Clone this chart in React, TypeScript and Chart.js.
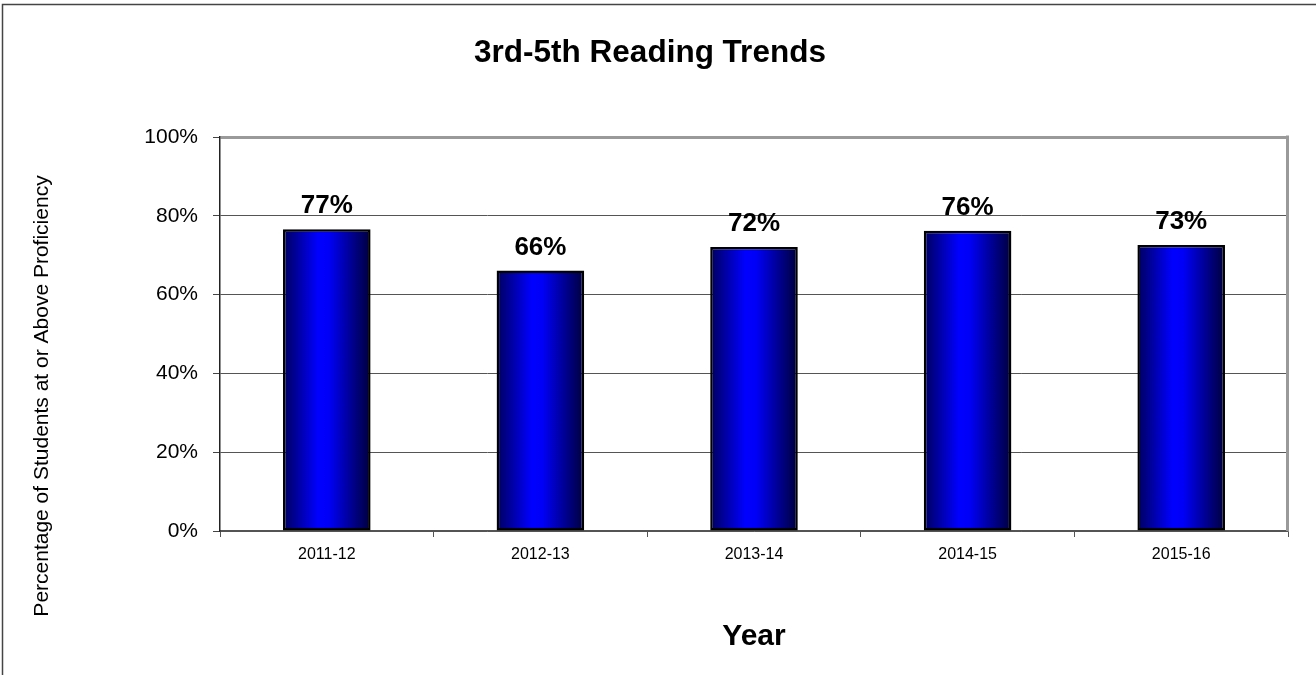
import React, { useEffect, useRef } from "react";
import { Chart, registerables } from "chart.js";

Chart.register(...registerables);

const categories = ["2011-12", "2012-13", "2013-14", "2014-15", "2015-16"];
const values = [76.6, 66.1, 72.1, 76.2, 72.6];
const yTicks = [0, 20, 40, 60, 80, 100];
const chartTitle = "3rd-5th Reading Trends";
const xTitle = "Year";
const yTitle = "Percentage of Students at or Above Proficiency";

const FONT = "Arial, 'Liberation Sans', sans-serif";

const decorPlugin = {
  id: "decor",
  beforeDatasetsDraw(chart: any) {
    const { ctx, chartArea } = chart;
    ctx.save();
    ctx.strokeStyle = "#9a9a9a";
    ctx.lineWidth = 3;
    ctx.beginPath();
    ctx.moveTo(chartArea.right - 0.5, chartArea.top - 1.5);
    ctx.lineTo(chartArea.right - 0.5, chartArea.bottom);
    ctx.stroke();
    ctx.restore();
  },
  afterDatasetsDraw(chart: any) {
    const { ctx } = chart;
    const meta = chart.getDatasetMeta(0);
    ctx.save();
    ctx.fillStyle = "#000";
    ctx.font = `bold 26px ${FONT}`;
    ctx.textAlign = "center";
    ctx.textBaseline = "alphabetic";
    meta.data.forEach((el: any, i: number) => {
      const v = chart.data.datasets[0].data[i] as number;
      ctx.fillText(Math.round(v) + "%", el.x, el.y - 16);
    });
    ctx.restore();
  },
  afterDraw(chart: any) {
    const { ctx, chartArea } = chart;
    ctx.save();
    // outer frame
    ctx.strokeStyle = "#444";
    ctx.lineWidth = 1.5;
    ctx.beginPath();
    ctx.moveTo(2.5, 675);
    ctx.lineTo(2.5, 4.5);
    ctx.lineTo(1316, 4.5);
    ctx.stroke();
    // title
    ctx.fillStyle = "#000";
    ctx.textAlign = "center";
    ctx.textBaseline = "alphabetic";
    ctx.font = `bold 31.5px ${FONT}`;
    ctx.fillText(chartTitle, 650, 62);
    // x title
    ctx.font = `bold 30px ${FONT}`;
    ctx.fillText(xTitle, (chartArea.left + chartArea.right) / 2, 645);
    // y title
    ctx.font = `21px ${FONT}`;
    ctx.translate(48, 396);
    ctx.rotate(-Math.PI / 2);
    ctx.fillText(yTitle, 0, 0);
    ctx.restore();
  },
};

function barGradient(context: any) {
  const chart = context.chart;
  const x = chart.scales && chart.scales.x;
  if (!x || !chart.chartArea) return "#0000ff";
  const cx = x.getPixelForValue(context.dataIndex);
  const w = (x.width / categories.length) * 0.41;
  const g = chart.ctx.createLinearGradient(cx - w / 2, 0, cx + w / 2, 0);
  g.addColorStop(0, "#00005e");
  g.addColorStop(0.4, "#0000ff");
  g.addColorStop(0.52, "#0000f8");
  g.addColorStop(1, "#00003c");
  return g;
}

export default function App() {
  const ref = useRef<HTMLCanvasElement>(null);

  useEffect(() => {
    document.body.style.margin = "0";
    const chart = new Chart(ref.current as HTMLCanvasElement, {
      type: "bar",
      data: {
        labels: categories,
        datasets: [
          {
            data: values,
            backgroundColor: barGradient as any,
            borderColor: "#000",
            borderWidth: 2.5,
            borderSkipped: false,
            barPercentage: 0.41,
            categoryPercentage: 1,
          },
        ],
      },
      options: {
        responsive: false,
        animation: false,
        devicePixelRatio: 1,
        layout: { padding: { top: 137, right: 28, left: 0, bottom: 0 } },
        plugins: {
          legend: { display: false },
          tooltip: { enabled: false },
          title: { display: false },
        },
        scales: {
          x: {
            afterFit: (s: any) => {
              s.height = 144;
            },
            grid: {
              drawOnChartArea: false,
              drawTicks: true,
              tickLength: 6,
              color: "#555",
              offset: true,
            },
            border: { color: "#555", width: 1.5 },
            ticks: {
              color: "#000",
              font: { family: FONT, size: 16 },
              padding: 8,
            },
          },
          y: {
            min: 0,
            max: 100,
            afterFit: (s: any) => {
              s.width = 220;
            },
            afterBuildTicks: (s: any) => {
              s.ticks = yTicks.map((v) => ({ value: v }));
            },
            grid: {
              color: (c: any) => (c.tick && c.tick.value === 100 ? "#9a9a9a" : "#555"),
              lineWidth: (c: any) => (c.tick && c.tick.value === 100 ? 3 : 1),
              tickColor: "#444",
              tickWidth: 1,
              tickLength: 7,
            },
            border: { color: "#222", width: 1.5 },
            ticks: {
              color: "#000",
              font: { family: FONT, size: 21 },
              padding: 15,
              callback: (v: any) => v + "%",
            },
          },
        },
      },
      plugins: [decorPlugin],
    });
    return () => chart.destroy();
  }, []);

  return (
    <div style={{ position: "absolute", left: 0, top: 0, width: 1316, height: 675, background: "#fff" }}>
      <canvas ref={ref} width={1316} height={675} style={{ display: "block" }} />
    </div>
  );
}
